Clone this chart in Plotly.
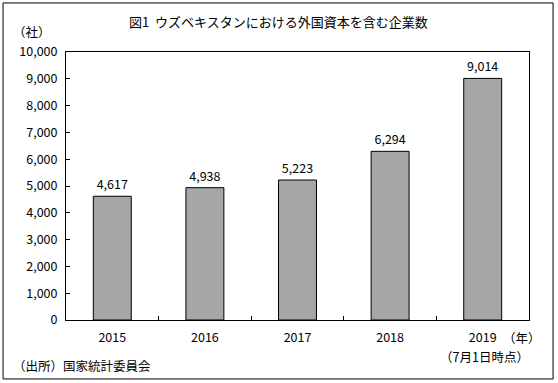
import plotly.graph_objects as go

years = ["2015", "2016", "2017", "2018", "2019"]
counts = [4617, 4938, 5223, 6294, 9014]
ytick_vals = [0, 1000, 2000, 3000, 4000, 5000, 6000, 7000, 8000, 9000, 10000]
ytick_text = ["0", "1,000", "2,000", "3,000", "4,000", "5,000", "6,000", "7,000", "8,000", "9,000", "10,000"]

FONT = "Noto Sans CJK JP, sans-serif"

fig = go.Figure(go.Bar(
    x=years, y=counts,
    marker=dict(color="#a6a6a6", line=dict(color="black", width=1)),
    text=[f"{v:,}" for v in counts], textposition="outside",
    textfont=dict(size=12.5, color="black", family=FONT),
    cliponaxis=False,
))

fig.update_layout(
    width=558, height=383,
    margin=dict(l=66, r=29, t=52, b=63),
    paper_bgcolor="white", plot_bgcolor="white",
    font=dict(family=FONT, size=12.5, color="black"),
    bargap=0.59,
    showlegend=False,
    xaxis=dict(type="category", showline=True, linecolor="black", linewidth=1, mirror=True,
               ticks="inside", ticklen=4, tickcolor="black", tickson="boundaries",
               showgrid=False, tickfont=dict(size=12.5), ticklabelstandoff=6),
    yaxis=dict(range=[0, 10000], tickvals=ytick_vals, ticktext=ytick_text,
               showline=True, linecolor="black", linewidth=1, mirror=True,
               ticks="inside", ticklen=4, tickcolor="black", showgrid=False,
               zeroline=False, tickfont=dict(size=12.5), ticklabelstandoff=5),
    shapes=[dict(type="rect", xref="paper", yref="paper", x0=-0.136, x1=1.052, y0=-0.220, y1=1.183,
                 line=dict(color="black", width=1), layer="below")],
    annotations=[
        dict(text="図1  ウズベキスタンにおける外国資本を含む企業数", xref="paper", yref="paper",
             x=0.458, y=1.112, xanchor="center", yanchor="middle", showarrow=False, font=dict(size=13)),
        dict(text="（社）", xref="paper", yref="paper", x=-0.118, y=1.078,
             xanchor="left", yanchor="middle", showarrow=False, font=dict(size=12.5)),
        dict(text="（年）", xref="paper", yref="paper", x=0.94, y=-0.065,
             xanchor="left", yanchor="middle", showarrow=False, font=dict(size=12.5)),
        dict(text="（7月1日時点）", xref="paper", yref="paper", x=1.005, y=-0.137,
             xanchor="right", yanchor="middle", showarrow=False, font=dict(size=12.5)),
        dict(text="（出所）国家統計委員会", xref="paper", yref="paper", x=-0.118, y=-0.168,
             xanchor="left", yanchor="middle", showarrow=False, font=dict(size=12.5)),
    ],
)

fig.write_html("out.html", config={"displayModeBar": False},
               post_script="document.body.style.margin='0';document.body.style.overflow='hidden';")
